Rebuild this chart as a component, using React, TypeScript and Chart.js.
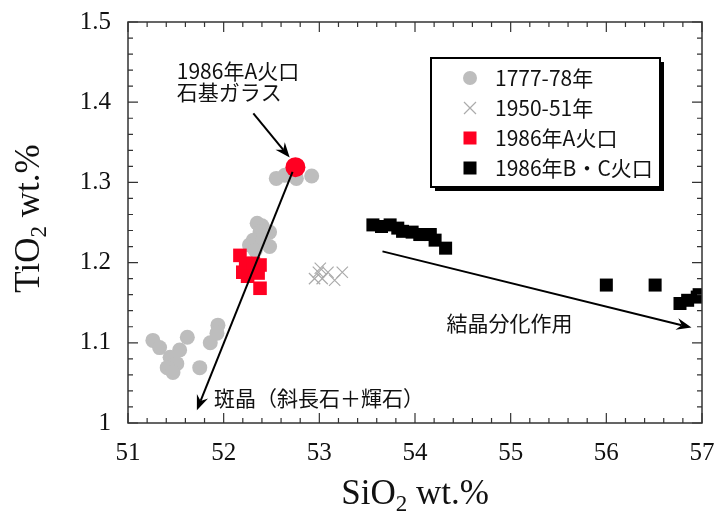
import React, { useEffect, useRef } from 'react';
import { Chart, registerables } from 'chart.js';
Chart.register(...registerables);

// ---- axis ranges / ticks ----
const xMin = 51, xMax = 57, xStep = 1, xMinor = 0.2;
const yMin = 1, yMax = 1.5, yStep = 0.1, yMinor = 0.02;

// ---- series: 1777-78年 (gray circles) ----
const s1777X = [51.26, 51.33, 51.62, 51.54, 51.44, 51.51, 51.41, 51.47, 51.75, 51.86, 51.94, 51.93,
  52.35, 52.40, 52.38, 52.48, 52.31, 52.41, 52.27, 52.48, 52.33,
  52.55, 52.64, 52.76, 52.92, 52.71];
const s1777Y = [1.103, 1.094, 1.107, 1.091, 1.082, 1.074, 1.069, 1.063, 1.069, 1.100, 1.122, 1.112,
  1.249, 1.246, 1.238, 1.238, 1.228, 1.228, 1.222, 1.220, 1.215,
  1.305, 1.309, 1.305, 1.308, 1.313];

// ---- 1950-51年 (gray crosses) ----
const s1950X = [52.99, 53.03, 53.09, 53.16, 53.24, 52.95, 53.01];
const s1950Y = [1.188, 1.180, 1.188, 1.178, 1.188, 1.180, 1.193];

// ---- 1986年A火口 (red squares) ----
const s1986AX = [52.17, 52.23, 52.20, 52.31, 52.38, 52.25, 52.36, 52.38];
const s1986AY = [1.209, 1.199, 1.188, 1.199, 1.197, 1.183, 1.187, 1.168];

// ---- 1986年B・C火口 (black squares) ----
const s1986BCX = [53.56, 53.65, 53.74, 53.82, 53.87, 53.97, 54.05, 54.16, 54.21, 54.32,
  56.0, 56.51, 56.77, 56.85, 56.95, 56.97];
const s1986BCY = [1.247, 1.245, 1.247, 1.243, 1.239, 1.238, 1.235, 1.235, 1.228, 1.218,
  1.172, 1.172, 1.149, 1.153, 1.157, 1.160];

// ---- 1986年A火口 石基ガラス (big red circle) ----
const glassX = [52.75];
const glassY = [1.319];

const legendLabels = ['1777-78年', '1950-51年', '1986年A火口', '1986年B・C火口'];

// annotation texts (data coordinates)
const annGlassText = ['1986年A火口', '石基ガラス'];
const annPheno = '斑晶（斜長石＋輝石）';
const annFrac = '結晶分化作用';

const GRAY = '#bdbdbd';
const XGRAY = '#ababab';
const RED = '#ff0022';
const BLACK = '#000000';
const SERIF = '"Liberation Serif", "Times New Roman", serif';
const JP = '"Noto Sans CJK JP", "Noto Sans", sans-serif';

const pts = (xs: number[], ys: number[]) => xs.map((x, i) => ({ x, y: ys[i] }));

function drawArrow(ctx: CanvasRenderingContext2D, x1: number, y1: number, x2: number, y2: number) {
  const ang = Math.atan2(y2 - y1, x2 - x1);
  const hl = 15, hw = 6, notch = 10;
  ctx.save();
  ctx.strokeStyle = '#000';
  ctx.fillStyle = '#000';
  ctx.lineWidth = 2;
  ctx.beginPath();
  ctx.moveTo(x1, y1);
  ctx.lineTo(x2 - Math.cos(ang) * notch, y2 - Math.sin(ang) * notch);
  ctx.stroke();
  ctx.translate(x2, y2);
  ctx.rotate(ang);
  ctx.beginPath();
  ctx.moveTo(0, 0);
  ctx.lineTo(-hl, -hw);
  ctx.lineTo(-notch, 0);
  ctx.lineTo(-hl, hw);
  ctx.closePath();
  ctx.fill();
  ctx.restore();
}

const framePlugin = {
  id: 'frame',
  afterDatasetsDraw(chart: any) {
    const { ctx, chartArea: ca, scales } = chart;
    const xs = scales.x, ys = scales.y;
    ctx.save();
    // annotations
    const P = (x: number, y: number) => [xs.getPixelForValue(x), ys.getPixelForValue(y)];
    let a = P(52.31, 1.386), b = P(52.69, 1.331);
    drawArrow(ctx, a[0], a[1], b[0], b[1]);
    a = P(52.72, 1.313); b = P(51.72, 1.016);
    drawArrow(ctx, a[0], a[1], b[0], b[1]);
    a = P(53.66, 1.214); b = P(56.89, 1.119);
    drawArrow(ctx, a[0], a[1], b[0], b[1]);

    ctx.fillStyle = '#111';
    ctx.font = `21px ${JP}`;
    ctx.textBaseline = 'middle';
    ctx.textAlign = 'left';
    let t = P(51.51, 1.439);
    ctx.fillText(annGlassText[0], t[0], t[1]);
    t = P(51.51, 1.413);
    ctx.fillText(annGlassText[1], t[0], t[1]);
    t = P(51.9, 1.031);
    ctx.fillText(annPheno, t[0], t[1]);
    t = P(54.33, 1.125);
    ctx.fillText(annFrac, t[0], t[1]);

    // frame
    ctx.strokeStyle = '#333';
    ctx.lineWidth = 1.5;
    ctx.strokeRect(ca.left, ca.top, ca.right - ca.left, ca.bottom - ca.top);
    ctx.lineWidth = 1.2;
    ctx.beginPath();
    const nx = Math.round((xMax - xMin) / xMinor);
    for (let i = 0; i <= nx; i++) {
      const v = xMin + i * xMinor;
      const px = xs.getPixelForValue(v);
      const major = i % Math.round(xStep / xMinor) === 0;
      const len = major ? 10 : 5;
      ctx.moveTo(px, ca.bottom); ctx.lineTo(px, ca.bottom - len);
      ctx.moveTo(px, ca.top); ctx.lineTo(px, ca.top + len);
    }
    const ny = Math.round((yMax - yMin) / yMinor);
    for (let i = 0; i <= ny; i++) {
      const v = yMin + i * yMinor;
      const py = ys.getPixelForValue(v);
      const major = i % Math.round(yStep / yMinor) === 0;
      const len = major ? 10 : 5;
      ctx.moveTo(ca.left, py); ctx.lineTo(ca.left + len, py);
      ctx.moveTo(ca.right, py); ctx.lineTo(ca.right - len, py);
    }
    ctx.stroke();

    // legend
    const lx = ca.left + 303, ly = ca.top + 36, lw = 229, lh = 129;
    ctx.fillStyle = '#000';
    ctx.fillRect(lx + 4, ly + 4, lw, lh);
    ctx.fillStyle = '#fff';
    ctx.fillRect(lx, ly, lw, lh);
    ctx.strokeStyle = '#000';
    ctx.lineWidth = 2;
    ctx.strokeRect(lx, ly, lw, lh);
    const mx = lx + 39, tx = lx + 64;
    const rows = [ly + 20, ly + 50, ly + 80, ly + 110];
    // circle
    ctx.fillStyle = GRAY;
    ctx.beginPath(); ctx.arc(mx, rows[0], 7, 0, Math.PI * 2); ctx.fill();
    // cross
    ctx.strokeStyle = XGRAY; ctx.lineWidth = 1.2;
    ctx.beginPath();
    ctx.moveTo(mx - 6, rows[1] - 6); ctx.lineTo(mx + 6, rows[1] + 6);
    ctx.moveTo(mx + 6, rows[1] - 6); ctx.lineTo(mx - 6, rows[1] + 6);
    ctx.stroke();
    ctx.fillStyle = RED; ctx.fillRect(mx - 6.5, rows[2] - 6.5, 13, 13);
    ctx.fillStyle = BLACK; ctx.fillRect(mx - 6.5, rows[3] - 6.5, 13, 13);
    ctx.fillStyle = '#111';
    ctx.font = `21px ${JP}`;
    ctx.textAlign = 'left'; ctx.textBaseline = 'middle';
    legendLabels.forEach((l, i) => ctx.fillText(l, tx, rows[i]));

    // axis titles
    const drawTitle = (parts: [string, boolean][], size: number) => {
      const big = `${size}px ${SERIF}`, small = `${Math.round(size * 0.65)}px ${SERIF}`;
      let w = 0;
      parts.forEach(([s, sub]) => { ctx.font = sub ? small : big; w += ctx.measureText(s).width; });
      let x = -w / 2;
      parts.forEach(([s, sub]) => {
        ctx.font = sub ? small : big;
        ctx.fillText(s, x, sub ? size * 0.2 : 0);
        x += ctx.measureText(s).width;
      });
    };
    ctx.fillStyle = '#111';
    ctx.textAlign = 'left'; ctx.textBaseline = 'alphabetic';
    ctx.save();
    ctx.translate((ca.left + ca.right) / 2, 504);
    drawTitle([['SiO', false], ['2', true], [' wt.%', false]], 35);
    ctx.restore();
    ctx.save();
    ctx.translate(39, (ca.top + ca.bottom) / 2 - 4);
    ctx.rotate(-Math.PI / 2);
    drawTitle([['TiO', false], ['2', true], [' wt.%', false]], 35);
    ctx.restore();
    ctx.restore();
  },
};

const zeroPad = (s: any) => { s.paddingTop = 0; s.paddingBottom = 0; s.paddingLeft = 0; s.paddingRight = 0; };

export default function App() {
  const ref = useRef<HTMLCanvasElement>(null);
  useEffect(() => {
    document.body.style.margin = '0';
    const canvas = ref.current!;
    const chart = new Chart(canvas, {
      type: 'scatter',
      data: {
        datasets: [
          { label: '石基ガラス', data: pts(glassX, glassY), pointStyle: 'circle', pointRadius: 10, pointHoverRadius: 10,
            backgroundColor: RED, borderColor: RED, borderWidth: 0, order: 0 },
          { label: legendLabels[3], data: pts(s1986BCX, s1986BCY), pointStyle: 'rect', pointRadius: 9.2, pointHoverRadius: 9.2,
            backgroundColor: BLACK, borderColor: BLACK, borderWidth: 0, order: 1 },
          { label: legendLabels[2], data: pts(s1986AX, s1986AY), pointStyle: 'rect', pointRadius: 9.6, pointHoverRadius: 9.6,
            backgroundColor: RED, borderColor: RED, borderWidth: 0, order: 2 },
          { label: legendLabels[1], data: pts(s1950X, s1950Y), pointStyle: 'crossRot', pointRadius: 8, pointHoverRadius: 8,
            backgroundColor: XGRAY, borderColor: XGRAY, borderWidth: 1.2, order: 3 },
          { label: legendLabels[0], data: pts(s1777X, s1777Y), pointStyle: 'circle', pointRadius: 7.5, pointHoverRadius: 7.5,
            backgroundColor: GRAY, borderColor: GRAY, borderWidth: 0, order: 4 },
        ],
      },
      options: {
        responsive: false,
        animation: false,
        events: [],
        layout: { padding: { top: 22, right: 17, left: 0, bottom: 0 } },
        plugins: { legend: { display: false }, tooltip: { enabled: false } },
        elements: { point: { hitRadius: 0 } },
        scales: {
          x: {
            type: 'linear', min: xMin, max: xMax,
            grid: { display: false, drawTicks: false },
            border: { display: false },
            ticks: { stepSize: xStep, color: '#111', font: { family: SERIF, size: 25 }, padding: 15,
              callback: (v: any) => String(Math.round(Number(v) * 10) / 10) },
            afterFit: (s: any) => { s.height = 94; zeroPad(s); },
          },
          y: {
            type: 'linear', min: yMin, max: yMax,
            grid: { display: false, drawTicks: false },
            border: { display: false },
            ticks: { stepSize: yStep, color: '#111', font: { family: SERIF, size: 25 }, padding: 17,
              callback: (v: any) => String(Math.round(Number(v) * 10) / 10) },
            afterFit: (s: any) => { s.width = 128; zeroPad(s); },
          },
        },
      },
      plugins: [framePlugin],
    });
    return () => chart.destroy();
  }, []);
  return <canvas ref={ref} width={719} height={517} style={{ display: 'block' }} />;
}
